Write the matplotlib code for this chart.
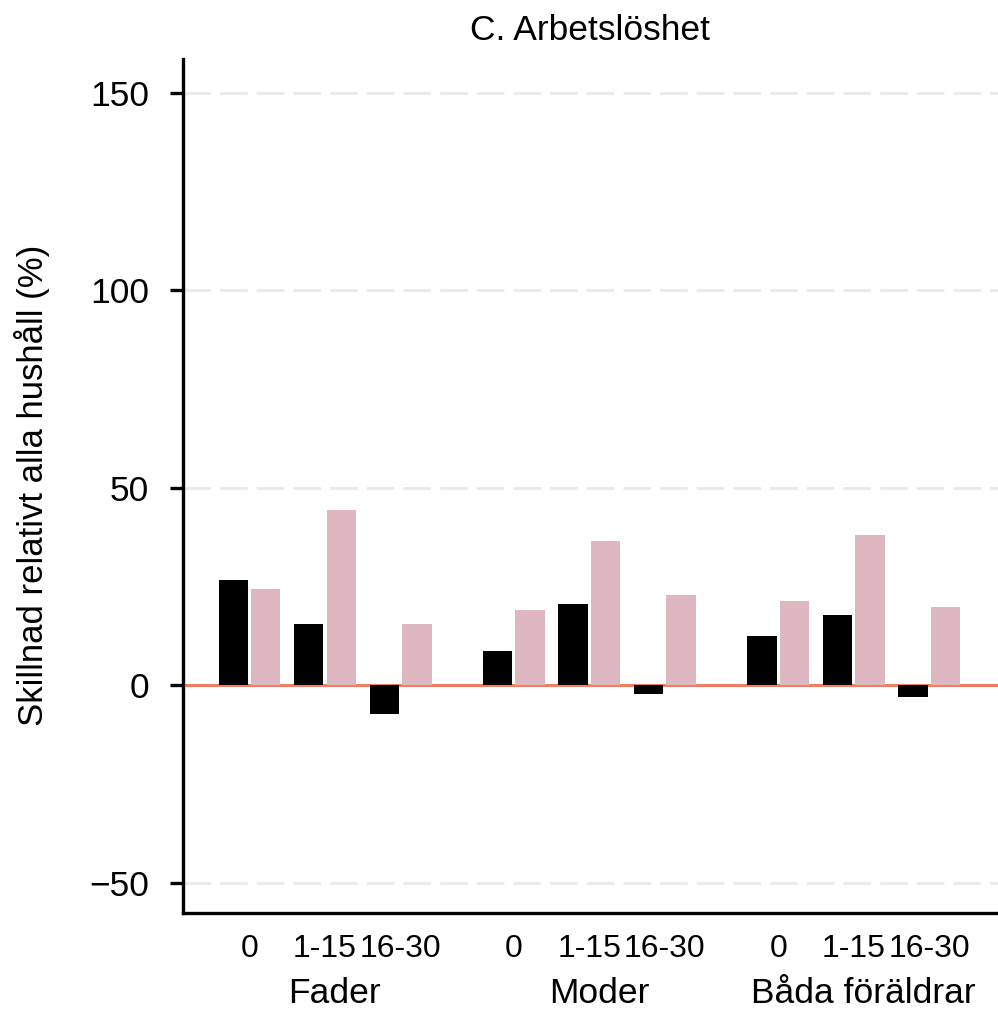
import numpy as np
import matplotlib
matplotlib.use("Agg")
import matplotlib.pyplot as plt
from matplotlib.transforms import blended_transform_factory

plt.rcParams['font.family'] = ['Liberation Sans', 'DejaVu Sans']

# data
groups = ["Fader", "Moder", "Båda föräldrar"]
ages = ["0", "1-15", "16-30"]
black_vals = [26.7, 15.6, -7.3, 8.7, 20.6, -2.2, 12.5, 17.8, -2.9]
pink_vals = [24.4, 44.3, 15.6, 19.1, 36.6, 22.9, 21.4, 38.1, 19.9]
yticks = [-50, 0, 50, 100, 150]

black = "#000000"
pink = "#dfb7c0"
zero_col = "#f07f62"
grid_col = "#ebebeb"

# pair positions: three per group, half a slot between groups
pos = np.array([g * 3.5 + i for g in range(3) for i in range(3)])
w = 0.39
off = 0.215

fig = plt.figure(figsize=(9.98, 10.16), dpi=100)
ax = fig.add_axes([183/998, 1 - 913/1016, 1 - 183/998, (913 - 59)/1016])

ax.bar(pos - off, black_vals, width=w, color=black, zorder=3)
ax.bar(pos + off, pink_vals, width=w, color=pink, zorder=3)
ax.axhline(0, color=zero_col, lw=2.2, zorder=2)

ax.set_ylim(-57.6, 158.6)
ax.set_xlim(-0.88, 9.91)
ax.set_yticks(yticks)
ax.set_yticklabels([str(v) if v >= 0 else "\u221250" for v in yticks])
ax.yaxis.grid(True, color=grid_col, lw=2.2, linestyle=(0, (9, 3)), zorder=1)
ax.set_axisbelow(True)

ax.set_xticks(pos)
ax.set_xticklabels(ages * 3)
ax.tick_params(axis='x', length=0, pad=15, labelsize=23)
ax.tick_params(axis='y', length=9.4, width=2.4, pad=15, labelsize=25.5)

for s in ["top", "right"]:
    ax.spines[s].set_visible(False)
for s in ["left", "bottom"]:
    ax.spines[s].set_linewidth(2.4)

tr = blended_transform_factory(ax.transData, ax.transAxes)
for g, name in enumerate(groups):
    ax.text(pos[g * 3 + 1] + 0.13, -0.0937, name, transform=tr, ha='center', va='center', fontsize=25.5)

ax.set_title("C. Arbetslöshet", fontsize=25.5, pad=13.5)
fig.text(32/998, 1 - 485/1016, "Skillnad relativt alla hushåll (%)", rotation=90,
         ha='center', va='center', fontsize=25)

fig.savefig("out.png", dpi=100)
